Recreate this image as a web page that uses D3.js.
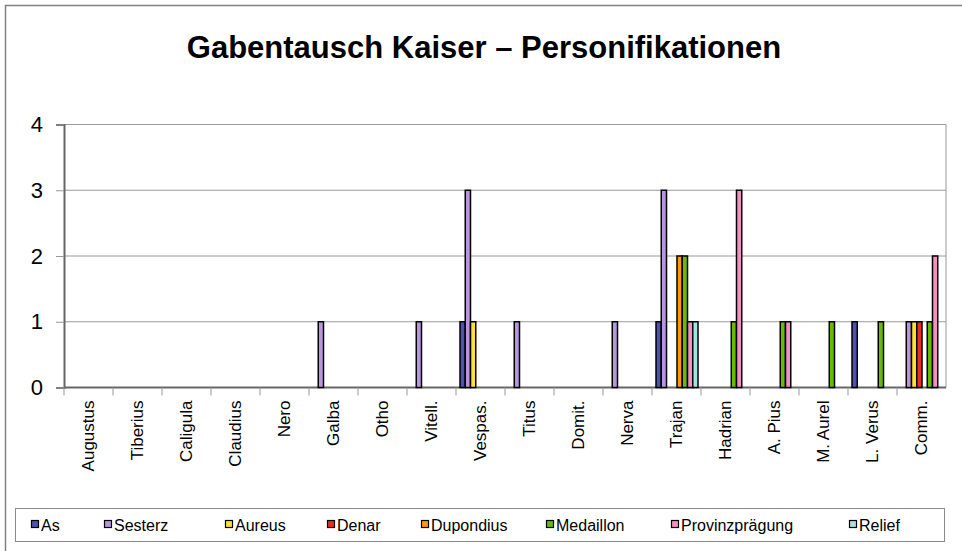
<!DOCTYPE html>
<html>
<head>
<meta charset="utf-8">
<script src="https://cdn.jsdelivr.net/npm/d3@7"></script>
<style>
  body { margin: 0; background: #fff; }
  text { font-family: "Liberation Sans", Arial, sans-serif; fill: #000; }
</style>
</head>
<body>
<div id="chart"></div>
<script>
// chart size
var width = 962,
    height = 551;
var margin = {top: 124.5, right: 16, bottom: 163.5, left: 64};

// data
var emperors = ["Augustus", "Tiberius", "Caligula", "Claudius", "Nero", "Galba", "Otho",
  "Vitell.", "Vespas.", "Titus", "Domit.", "Nerva", "Trajan", "Hadrian", "A. Pius",
  "M. Aurel", "L. Verus", "Comm."];
var coinTypes = ["As", "Sesterz", "Aureus", "Denar", "Dupondius", "Medaillon", "Provinzprägung", "Relief"];
var coinColors = ["#4f53ac", "#b795e0", "#ffe135", "#e8301c", "#ff9a00", "#67bc00", "#f38fc3", "#a3e2e2"];

var asVals        = [0,0,0,0,0,0,0,0,1,0,0,0,1,0,0,0,1,0];
var sesterzVals   = [0,0,0,0,0,1,0,1,3,1,0,1,3,0,0,0,0,1];
var aureusVals    = [0,0,0,0,0,0,0,0,1,0,0,0,0,0,0,0,0,1];
var denarVals     = [0,0,0,0,0,0,0,0,0,0,0,0,0,0,0,0,0,1];
var dupondiusVals = [0,0,0,0,0,0,0,0,0,0,0,0,2,0,0,0,0,0];
var medaillonVals = [0,0,0,0,0,0,0,0,0,0,0,0,2,1,1,1,1,1];
var provinzVals   = [0,0,0,0,0,0,0,0,0,0,0,0,1,3,1,0,0,2];
var reliefVals    = [0,0,0,0,0,0,0,0,0,0,0,0,1,0,0,0,0,0];
var yTicks = [0, 1, 2, 3, 4];

var seriesVals = [asVals, sesterzVals, aureusVals, denarVals, dupondiusVals, medaillonVals, provinzVals, reliefVals];

var rows = emperors.map(function(name, i) {
  return {
    name: name,
    values: coinTypes.map(function(t, j) { return {type: t, idx: j, value: seriesVals[j][i]}; })
  };
});

var svg = d3.select("#chart").append("svg")
    .attr("width", width)
    .attr("height", height);

// outer frame
svg.append("rect")
    .attr("x", 5.5).attr("y", 5.5)
    .attr("width", width + 10).attr("height", height + 10)
    .attr("fill", "none")
    .attr("stroke", "#808080")
    .attr("stroke-width", 1.5);

svg.append("text")
    .attr("x", 484)
    .attr("y", 58)
    .attr("text-anchor", "middle")
    .style("font-size", "31px")
    .style("font-weight", "bold")
    .text("Gabentausch Kaiser – Personifikationen");

var plotW = 946 - margin.left,
    plotH = height - margin.top - margin.bottom;

var g = svg.append("g")
    .attr("transform", "translate(" + margin.left + "," + margin.top + ")");

var x0 = d3.scaleBand()
    .domain(emperors)
    .range([0, plotW]);

var x1 = d3.scaleBand()
    .domain(coinTypes)
    .range([4, x0.bandwidth() - 3]);

var y = d3.scaleLinear()
    .domain([0, 4])
    .range([plotH, 0]);

// gridlines
g.selectAll(".grid")
    .data(yTicks.slice(1))
  .enter().append("line")
    .attr("class", "grid")
    .attr("x1", 0).attr("x2", plotW)
    .attr("y1", function(d) { return y(d); })
    .attr("y2", function(d) { return y(d); })
    .attr("stroke", "#9a9a9a")
    .attr("stroke-width", 1);

// right border
g.append("line")
    .attr("x1", plotW).attr("x2", plotW)
    .attr("y1", 0).attr("y2", plotH)
    .attr("stroke", "#9a9a9a");

// y axis
var yAxis = g.append("g")
    .call(d3.axisLeft(y).tickValues(yTicks).tickSize(8).tickPadding(13).tickFormat(d3.format("d")));
yAxis.select(".domain").attr("stroke", "#666").attr("stroke-width", 2);
yAxis.selectAll(".tick line").attr("stroke", "#999");
yAxis.selectAll("text").style("font-size", "22px").attr("fill", "#000");

// x axis: ticks on the category boundaries
var xAxis = g.append("g")
    .attr("transform", "translate(0," + plotH + ")");
xAxis.append("line")
    .attr("x1", 0).attr("x2", plotW)
    .attr("stroke", "#666").attr("stroke-width", 2);
xAxis.selectAll(".xtick")
    .data(emperors)
  .enter().append("line")
    .attr("class", "xtick")
    .attr("x1", function(d) { return x0(d); })
    .attr("x2", function(d) { return x0(d); })
    .attr("y1", 0).attr("y2", 8)
    .attr("stroke", "#999");
xAxis.selectAll(".xlab")
    .data(emperors)
  .enter().append("text")
    .attr("class", "xlab")
    .attr("transform", function(d) { return "translate(" + (x0(d) + x0.bandwidth() / 2) + ",13) rotate(-90)"; })
    .attr("dy", ".35em")
    .attr("text-anchor", "end")
    .style("font-size", "17px")
    .text(function(d) { return d; });

// bars
var group = g.selectAll(".emp")
    .data(rows)
  .enter().append("g")
    .attr("class", "emp")
    .attr("transform", function(d) { return "translate(" + x0(d.name) + ",0)"; });

group.selectAll("rect")
    .data(function(d) { return d.values.filter(function(v) { return v.value > 0; }); })
  .enter().append("rect")
    .attr("x", function(d) { return x1(d.type); })
    .attr("width", x1.bandwidth())
    .attr("y", function(d) { return y(d.value); })
    .attr("height", function(d) { return plotH - y(d.value); })
    .attr("fill", function(d) { return coinColors[d.idx]; })
    .attr("stroke", "#000")
    .attr("stroke-width", 1.5);

// legend
var legend = svg.append("g");
legend.append("rect")
    .attr("x", 15.5).attr("y", 508.5)
    .attr("width", 929).attr("height", 33)
    .attr("fill", "#fff")
    .attr("stroke", "#8a8a8a");

var legendX = [31, 104, 225, 327, 421, 546, 671, 849];
var item = legend.selectAll(".item")
    .data(coinTypes)
  .enter().append("g")
    .attr("class", "item")
    .attr("transform", function(d, i) { return "translate(" + legendX[i] + ",525)"; });
item.append("rect")
    .attr("x", 0.5).attr("y", -4.5)
    .attr("width", 7).attr("height", 7)
    .attr("fill", function(d, i) { return coinColors[i]; })
    .attr("stroke", "#000")
    .attr("stroke-width", 1.2);
item.append("text")
    .attr("x", 10)
    .attr("dy", ".35em")
    .style("font-size", "16px")
    .text(function(d) { return d; });
</script>
</body>
</html>
